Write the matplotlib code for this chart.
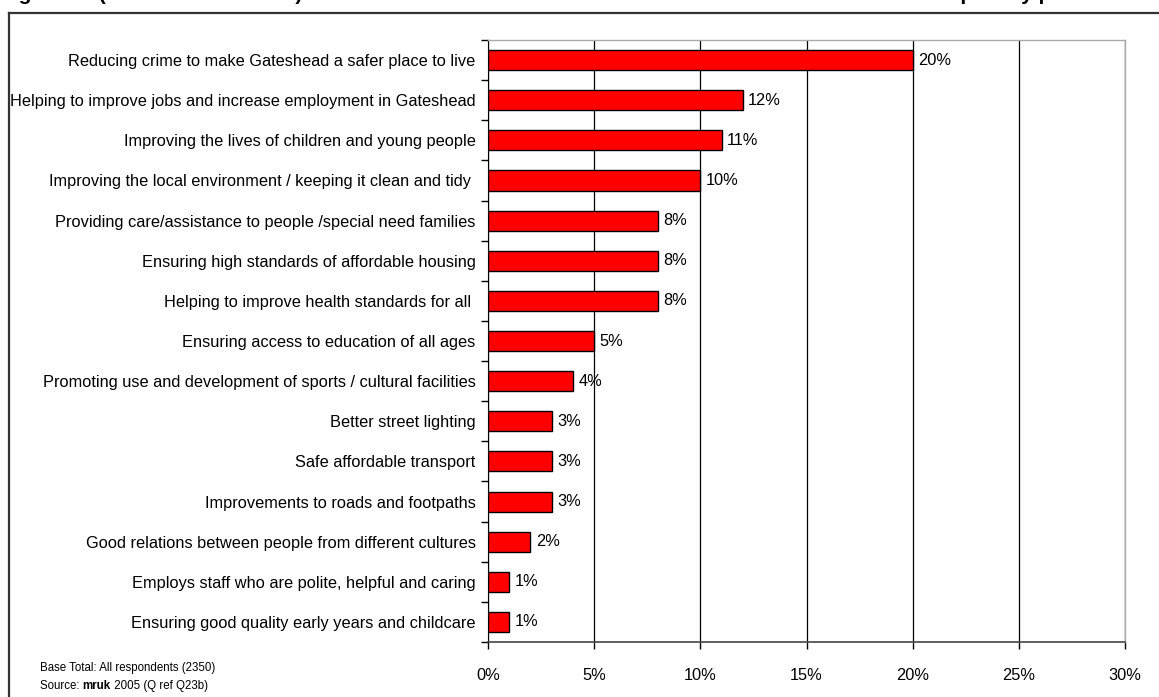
import matplotlib
matplotlib.use("Agg")
import matplotlib.pyplot as plt
from matplotlib.lines import Line2D
from matplotlib.ticker import PercentFormatter

plt.rcParams['font.family'] = ['Liberation Sans', 'DejaVu Sans']

categories = [
    "Reducing crime to make Gateshead a safer place to live",
    "Helping to improve jobs and increase employment in Gateshead",
    "Improving the lives of children and young people",
    "Improving the local environment / keeping it clean and tidy ",
    "Providing care/assistance to people /special need families",
    "Ensuring high standards of affordable housing",
    "Helping to improve health standards for all ",
    "Ensuring access to education of all ages",
    "Promoting use and development of sports / cultural facilities",
    "Better street lighting",
    "Safe affordable transport",
    "Improvements to roads and footpaths",
    "Good relations between people from different cultures",
    "Employs staff who are polite, helpful and caring",
    "Ensuring good quality early years and childcare",
]
values = [20, 12, 11, 10, 8, 8, 8, 5, 4, 3, 3, 3, 2, 1, 1]
x_ticks = [0, 5, 10, 15, 20, 25, 30]

W, H = 1159, 697
fig = plt.figure(figsize=(W / 100, H / 100), dpi=100)

# outer frame (partially outside the figure)
fig.add_artist(Line2D([9 / W, 9 / W], [0, 1 - 13 / H], transform=fig.transFigure,
                      color='#333333', lw=1.6))
fig.add_artist(Line2D([9 / W, 1.0], [1 - 13 / H, 1 - 13 / H], transform=fig.transFigure,
                      color='#333333', lw=1.6))

# title, clipped at the top of the image (only its lowest part shows)
fig.text(0 / W, 1 + 0.5 / H,
         "Figure 28 (Gateshead Council): Which one of these areas should the Council choose as its main priority please",
         fontsize=15, fontweight='bold', va='baseline', ha='left')

left, right, top, bottom = 488, 1125, 40, 642
ax = fig.add_axes([left / W, 1 - bottom / H, (right - left) / W, (bottom - top) / H])

n = len(categories)
ypos = list(range(n))
ax.barh(ypos, values, height=0.5, color='#FF0000', edgecolor='black', linewidth=1.0, zorder=3)
ax.set_ylim(n - 0.5, -0.5)
ax.set_xlim(0, 30)
ax.set_xticks(x_ticks)
ax.xaxis.set_major_formatter(PercentFormatter(decimals=0))
ax.grid(axis='x', color='black', lw=0.9, zorder=0)

ax.set_yticks(ypos)
ax.set_yticklabels(categories, fontsize=11.8)
ax.tick_params(axis='y', length=0, pad=9)
ax.set_yticks([i + 0.5 for i in range(-1, n)], minor=True)
ax.tick_params(axis='y', which='minor', length=5, width=1, color='black')
ax.tick_params(axis='x', length=5, width=1, pad=14, labelsize=11.8)

for i, v in enumerate(values):
    ax.text(v + 0.25, i, f"{v}%", va='center', ha='left', fontsize=11.8, zorder=4)

for s in ['top', 'right']:
    ax.spines[s].set_color('#aaaaaa')
    ax.spines[s].set_linewidth(1)
ax.spines['left'].set_color('black')
ax.spines['bottom'].set_color('#444444')
ax.spines['bottom'].set_linewidth(1.2)

fs = 8.3
fig.text(40 / W, 1 - 668 / H, "Base Total: All respondents (2350)", fontsize=fs, va='center')
src = fig.text(40 / W, 1 - 686 / H, "Source: ", fontsize=fs, va='center')
fig.canvas.draw()
bb = src.get_window_extent()
m = fig.text(bb.x1 / W, 1 - 686 / H, "mruk", fontsize=fs, va='center', fontweight='bold')
fig.canvas.draw()
bb2 = m.get_window_extent()
fig.text(bb2.x1 / W, 1 - 686 / H, " 2005 (Q ref Q23b)", fontsize=fs, va='center')

fig.savefig("out.png", dpi=100)
